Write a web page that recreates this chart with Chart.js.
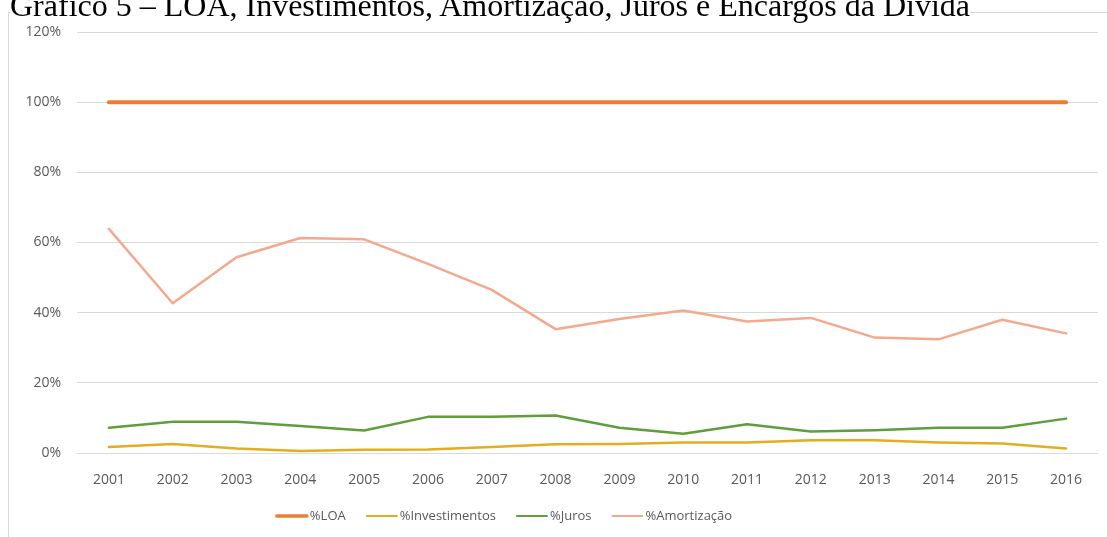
<!DOCTYPE html>
<html><head><meta charset="utf-8">
<script src="https://cdn.jsdelivr.net/npm/chart.js@4/dist/chart.umd.min.js"></script>
<style>
html,body{margin:0;padding:0;background:#fff;overflow:hidden;width:1107px;height:537px;}
#title{position:absolute;left:10px;top:-11px;font-family:"Liberation Serif","Times New Roman",serif;font-size:32px;line-height:32px;color:#000;white-space:nowrap;background:#fff;z-index:2;}
#box{position:absolute;left:8px;top:12px;width:1200px;height:600px;border-left:1px solid #d9d9d9;border-top:1px solid #d9d9d9;background:#fff;}
#c{position:absolute;left:0;top:0;z-index:1;}
</style></head><body>
<div id="title">Gráfico 5 – LOA, Investimentos, Amortização, Juros e Encargos da Dívida</div>
<div id="box"></div>
<canvas id="c" width="1107" height="537"></canvas>
<script>
const years = ["2001","2002","2003","2004","2005","2006","2007","2008","2009","2010","2011","2012","2013","2014","2015","2016"];
const pctLOA = [100,100,100,100,100,100,100,100,100,100,100,100,100,100,100,100];
const pctInvestimentos = [1.7,2.6,1.3,0.6,0.9,1.0,1.7,2.5,2.6,3.0,3.0,3.6,3.6,3.0,2.7,1.3];
const pctJuros = [7.2,8.9,8.9,7.7,6.4,10.3,10.3,10.7,7.2,5.5,8.2,6.1,6.5,7.2,7.2,9.8];
const pctAmortizacao = [63.9,42.7,55.8,61.3,60.9,53.9,46.5,35.3,38.2,40.6,37.5,38.5,32.9,32.4,38.0,34.1];
const yTicks = [0,20,40,60,80,100,120];

const mk = (label, data, color, w) => ({label, data, borderColor: color, backgroundColor: color, borderWidth: w, pointRadius: 0, tension: 0, borderCapStyle: 'round', borderJoinStyle: 'round'});

// custom legend drawn on the canvas from the datasets
const legendPlugin = {
  id: 'bottomLegend',
  afterDraw(chart) {
    const ctx = chart.ctx;
    ctx.save();
    ctx.font = '13px "Open Sans"';
    const lineW = 32, gapText = 2, gapItem = 20;
    const items = chart.data.datasets.map(d => ({label: d.label, color: d.borderColor, w: d.borderWidth, tw: ctx.measureText(d.label).width}));
    const total = items.reduce((s, it) => s + lineW + gapText + it.tw, 0) + gapItem * (items.length - 1);
    let x = 504 - total / 2;
    const y = 516;
    items.forEach(it => {
      ctx.strokeStyle = it.color;
      ctx.lineWidth = it.w >= 4 ? 3.5 : 2;
      ctx.lineCap = 'round';
      ctx.beginPath(); ctx.moveTo(x + 1, y); ctx.lineTo(x + lineW - 1, y); ctx.stroke();
      x += lineW + gapText;
      ctx.fillStyle = '#595959';
      ctx.textBaseline = 'middle';
      ctx.fillText(it.label, x, y);
      x += it.tw + gapItem;
    });
    ctx.restore();
  }
};

new Chart(document.getElementById('c'), {
  type: 'line',
  data: {
    labels: years,
    datasets: [
      mk('%LOA', pctLOA, '#ED7D31', 4),
      mk('%Investimentos', pctInvestimentos, '#E3AD1F', 2.5),
      mk('%Juros', pctJuros, '#5E9E3C', 2.5),
      mk('%Amortização', pctAmortizacao, '#F4A98E', 2.5)
    ]
  },
  plugins: [legendPlugin],
  options: {
    responsive: false,
    animation: false,
    layout: { padding: { left: 0, right: 9, top: 32, bottom: 44 } },
    plugins: {
      tooltip: { enabled: false },
      legend: { display: false }
    },
    scales: {
      x: {
        offset: true,
        grid: { display: false },
        border: { display: false },
        ticks: { color: '#595959', font: { family: 'Open Sans', size: 14 }, padding: 11, maxRotation: 0 },
        afterFit(s) { s.height = 40; }
      },
      y: {
        min: 0, max: 120,
        afterBuildTicks(s) { s.ticks = yTicks.map(v => ({value: v})); },
        grid: { color: '#d9d9d9', lineWidth: 1, drawTicks: false },
        border: { display: false },
        ticks: { color: '#595959', font: { family: 'Open Sans', size: 14 }, padding: 16, callback: v => v + '%' },
        afterFit(s) { s.width = 77; }
      }
    }
  }
});
</script>
</body></html>
